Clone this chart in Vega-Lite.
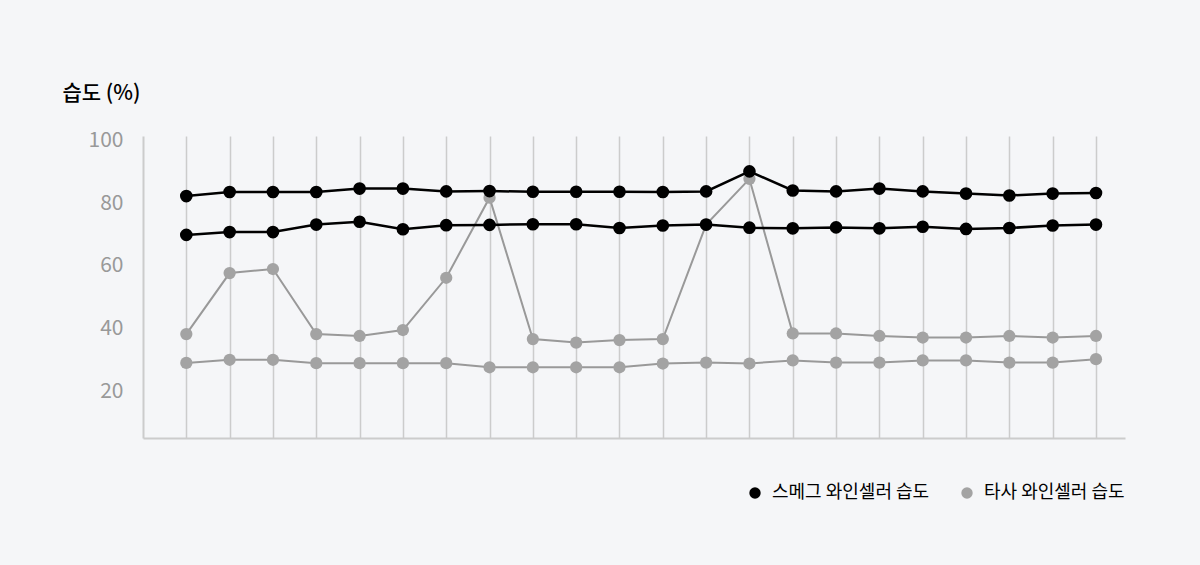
{
  "$schema": "https://vega.github.io/schema/vega-lite/v6.json",
  "width": 982,
  "height": 302,
  "autosize": "none",
  "padding": {"left": 143, "top": 136, "right": 75, "bottom": 127},
  "background": "#f5f6f8",
  "config": {
    "view": {"stroke": null},
    "font": "Noto Sans CJK KR"
  },
  "data": {
    "values": [
      {"i": 0, "s": "s1", "brand": "스메그 와인셀러 습도", "v": 82.3},
      {"i": 1, "s": "s1", "brand": "스메그 와인셀러 습도", "v": 83.6},
      {"i": 2, "s": "s1", "brand": "스메그 와인셀러 습도", "v": 83.6},
      {"i": 3, "s": "s1", "brand": "스메그 와인셀러 습도", "v": 83.6},
      {"i": 4, "s": "s1", "brand": "스메그 와인셀러 습도", "v": 84.7},
      {"i": 5, "s": "s1", "brand": "스메그 와인셀러 습도", "v": 84.7},
      {"i": 6, "s": "s1", "brand": "스메그 와인셀러 습도", "v": 83.8},
      {"i": 7, "s": "s1", "brand": "스메그 와인셀러 습도", "v": 83.9},
      {"i": 8, "s": "s1", "brand": "스메그 와인셀러 습도", "v": 83.7},
      {"i": 9, "s": "s1", "brand": "스메그 와인셀러 습도", "v": 83.7},
      {"i": 10, "s": "s1", "brand": "스메그 와인셀러 습도", "v": 83.7},
      {"i": 11, "s": "s1", "brand": "스메그 와인셀러 습도", "v": 83.6},
      {"i": 12, "s": "s1", "brand": "스메그 와인셀러 습도", "v": 83.8},
      {"i": 13, "s": "s1", "brand": "스메그 와인셀러 습도", "v": 90.2},
      {"i": 14, "s": "s1", "brand": "스메그 와인셀러 습도", "v": 84.1},
      {"i": 15, "s": "s1", "brand": "스메그 와인셀러 습도", "v": 83.8},
      {"i": 16, "s": "s1", "brand": "스메그 와인셀러 습도", "v": 84.7},
      {"i": 17, "s": "s1", "brand": "스메그 와인셀러 습도", "v": 83.8},
      {"i": 18, "s": "s1", "brand": "스메그 와인셀러 습도", "v": 83.1},
      {"i": 19, "s": "s1", "brand": "스메그 와인셀러 습도", "v": 82.5},
      {"i": 20, "s": "s1", "brand": "스메그 와인셀러 습도", "v": 83.1},
      {"i": 21, "s": "s1", "brand": "스메그 와인셀러 습도", "v": 83.3},
      {"i": 0, "s": "s2", "brand": "스메그 와인셀러 습도", "v": 69.9},
      {"i": 1, "s": "s2", "brand": "스메그 와인셀러 습도", "v": 70.8},
      {"i": 2, "s": "s2", "brand": "스메그 와인셀러 습도", "v": 70.8},
      {"i": 3, "s": "s2", "brand": "스메그 와인셀러 습도", "v": 73.2},
      {"i": 4, "s": "s2", "brand": "스메그 와인셀러 습도", "v": 74.1},
      {"i": 5, "s": "s2", "brand": "스메그 와인셀러 습도", "v": 71.7},
      {"i": 6, "s": "s2", "brand": "스메그 와인셀러 습도", "v": 73.0},
      {"i": 7, "s": "s2", "brand": "스메그 와인셀러 습도", "v": 73.1},
      {"i": 8, "s": "s2", "brand": "스메그 와인셀러 습도", "v": 73.3},
      {"i": 9, "s": "s2", "brand": "스메그 와인셀러 습도", "v": 73.3},
      {"i": 10, "s": "s2", "brand": "스메그 와인셀러 습도", "v": 72.1},
      {"i": 11, "s": "s2", "brand": "스메그 와인셀러 습도", "v": 72.9},
      {"i": 12, "s": "s2", "brand": "스메그 와인셀러 습도", "v": 73.2},
      {"i": 13, "s": "s2", "brand": "스메그 와인셀러 습도", "v": 72.2},
      {"i": 14, "s": "s2", "brand": "스메그 와인셀러 습도", "v": 72.0},
      {"i": 15, "s": "s2", "brand": "스메그 와인셀러 습도", "v": 72.3},
      {"i": 16, "s": "s2", "brand": "스메그 와인셀러 습도", "v": 72.0},
      {"i": 17, "s": "s2", "brand": "스메그 와인셀러 습도", "v": 72.5},
      {"i": 18, "s": "s2", "brand": "스메그 와인셀러 습도", "v": 71.8},
      {"i": 19, "s": "s2", "brand": "스메그 와인셀러 습도", "v": 72.1},
      {"i": 20, "s": "s2", "brand": "스메그 와인셀러 습도", "v": 72.9},
      {"i": 21, "s": "s2", "brand": "스메그 와인셀러 습도", "v": 73.2},
      {"i": 0, "s": "s3", "brand": "타사 와인셀러 습도", "v": 38.2},
      {"i": 1, "s": "s3", "brand": "타사 와인셀러 습도", "v": 57.7},
      {"i": 2, "s": "s3", "brand": "타사 와인셀러 습도", "v": 59.0},
      {"i": 3, "s": "s3", "brand": "타사 와인셀러 습도", "v": 38.2},
      {"i": 4, "s": "s3", "brand": "타사 와인셀러 습도", "v": 37.6},
      {"i": 5, "s": "s3", "brand": "타사 와인셀러 습도", "v": 39.5},
      {"i": 6, "s": "s3", "brand": "타사 와인셀러 습도", "v": 56.2},
      {"i": 7, "s": "s3", "brand": "타사 와인셀러 습도", "v": 81.8},
      {"i": 8, "s": "s3", "brand": "타사 와인셀러 습도", "v": 36.6},
      {"i": 9, "s": "s3", "brand": "타사 와인셀러 습도", "v": 35.5},
      {"i": 10, "s": "s3", "brand": "타사 와인셀러 습도", "v": 36.3},
      {"i": 11, "s": "s3", "brand": "타사 와인셀러 습도", "v": 36.6},
      {"i": 12, "s": "s3", "brand": "타사 와인셀러 습도", "v": 73.2},
      {"i": 13, "s": "s3", "brand": "타사 와인셀러 습도", "v": 87.8},
      {"i": 14, "s": "s3", "brand": "타사 와인셀러 습도", "v": 38.4},
      {"i": 15, "s": "s3", "brand": "타사 와인셀러 습도", "v": 38.4},
      {"i": 16, "s": "s3", "brand": "타사 와인셀러 습도", "v": 37.6},
      {"i": 17, "s": "s3", "brand": "타사 와인셀러 습도", "v": 37.1},
      {"i": 18, "s": "s3", "brand": "타사 와인셀러 습도", "v": 37.1},
      {"i": 19, "s": "s3", "brand": "타사 와인셀러 습도", "v": 37.6},
      {"i": 20, "s": "s3", "brand": "타사 와인셀러 습도", "v": 37.1},
      {"i": 21, "s": "s3", "brand": "타사 와인셀러 습도", "v": 37.6},
      {"i": 0, "s": "s4", "brand": "타사 와인셀러 습도", "v": 29.0},
      {"i": 1, "s": "s4", "brand": "타사 와인셀러 습도", "v": 30.0},
      {"i": 2, "s": "s4", "brand": "타사 와인셀러 습도", "v": 30.0},
      {"i": 3, "s": "s4", "brand": "타사 와인셀러 습도", "v": 28.9},
      {"i": 4, "s": "s4", "brand": "타사 와인셀러 습도", "v": 28.9},
      {"i": 5, "s": "s4", "brand": "타사 와인셀러 습도", "v": 28.9},
      {"i": 6, "s": "s4", "brand": "타사 와인셀러 습도", "v": 28.9},
      {"i": 7, "s": "s4", "brand": "타사 와인셀러 습도", "v": 27.6},
      {"i": 8, "s": "s4", "brand": "타사 와인셀러 습도", "v": 27.6},
      {"i": 9, "s": "s4", "brand": "타사 와인셀러 습도", "v": 27.6},
      {"i": 10, "s": "s4", "brand": "타사 와인셀러 습도", "v": 27.6},
      {"i": 11, "s": "s4", "brand": "타사 와인셀러 습도", "v": 28.8},
      {"i": 12, "s": "s4", "brand": "타사 와인셀러 습도", "v": 29.1},
      {"i": 13, "s": "s4", "brand": "타사 와인셀러 습도", "v": 28.8},
      {"i": 14, "s": "s4", "brand": "타사 와인셀러 습도", "v": 29.8},
      {"i": 15, "s": "s4", "brand": "타사 와인셀러 습도", "v": 29.1},
      {"i": 16, "s": "s4", "brand": "타사 와인셀러 습도", "v": 29.1},
      {"i": 17, "s": "s4", "brand": "타사 와인셀러 습도", "v": 29.8},
      {"i": 18, "s": "s4", "brand": "타사 와인셀러 습도", "v": 29.8},
      {"i": 19, "s": "s4", "brand": "타사 와인셀러 습도", "v": 29.1},
      {"i": 20, "s": "s4", "brand": "타사 와인셀러 습도", "v": 29.1},
      {"i": 21, "s": "s4", "brand": "타사 와인셀러 습도", "v": 30.2}
    ]
  },
  "encoding": {
    "x": {
      "field": "i",
      "type": "quantitative",
      "scale": {"domain": [-1, 21.67], "nice": false, "zero": false},
      "axis": {
        "title": null,
        "labels": false,
        "ticks": false,
        "grid": true,
        "gridColor": "#cccccc",
        "gridWidth": 1.5,
        "values": [0, 1, 2, 3, 4, 5, 6, 7, 8, 9, 10, 11, 12, 13, 14, 15, 16, 17, 18, 19, 20, 21],
        "domainColor": "#cccccc",
        "domainWidth": 2
      }
    },
    "y": {
      "field": "v",
      "type": "quantitative",
      "scale": {"domain": [5, 101.5], "nice": false, "zero": false},
      "axis": {
        "title": "습도 (%)",
        "titleAngle": 0,
        "titleAlign": "left",
        "titleBaseline": "middle",
        "titleX": -81,
        "titleY": -43,
        "titleFontSize": 21,
        "titleFontWeight": 500,
        "titleColor": "#000000",
        "values": [20, 40, 60, 80, 100],
        "ticks": false,
        "grid": false,
        "labelFontSize": 21,
        "labelColor": "#999999",
        "labelPadding": 20,
        "domainColor": "#cccccc",
        "domainWidth": 2
      }
    },
    "color": {
      "field": "brand",
      "type": "nominal",
      "scale": {
        "domain": ["스메그 와인셀러 습도", "타사 와인셀러 습도"],
        "range": ["#000000", "#a3a3a3"]
      },
      "legend": {
        "title": null,
        "orient": "none",
        "direction": "horizontal",
        "legendX": 603,
        "legendY": 348,
        "symbolType": "circle",
        "symbolSize": 130,
        "symbolStrokeWidth": 0,
        "labelFontSize": 18,
        "labelOffset": 8,
        "columnPadding": 28,
        "encode": {
          "labels": {
            "update": {
              "fill": {"signal": "datum.value === '스메그 와인셀러 습도' ? '#000000' : '#999999'"},
              "fontWeight": {"signal": "datum.value === '스메그 와인셀러 습도' ? 500 : 400"}
            }
          }
        }
      }
    },
    "detail": {"field": "s"}
  },
  "layer": [
    {
      "transform": [{"filter": "datum.brand === '타사 와인셀러 습도'"}],
      "mark": {"type": "line", "strokeWidth": 2, "color": "#999999"},
      "encoding": {"color": {"value": "#999999"}}
    },
    {
      "transform": [{"filter": "datum.brand === '타사 와인셀러 습도'"}],
      "mark": {"type": "point", "filled": true, "opacity": 1, "size": 150, "shape": "circle"}
    },
    {
      "transform": [{"filter": "datum.brand === '스메그 와인셀러 습도'"}],
      "mark": {"type": "line", "strokeWidth": 2.5},
      "encoding": {"color": {"value": "#000000"}}
    },
    {
      "transform": [{"filter": "datum.brand === '스메그 와인셀러 습도'"}],
      "mark": {"type": "point", "filled": true, "opacity": 1, "size": 160, "shape": "circle"}
    }
  ]
}
